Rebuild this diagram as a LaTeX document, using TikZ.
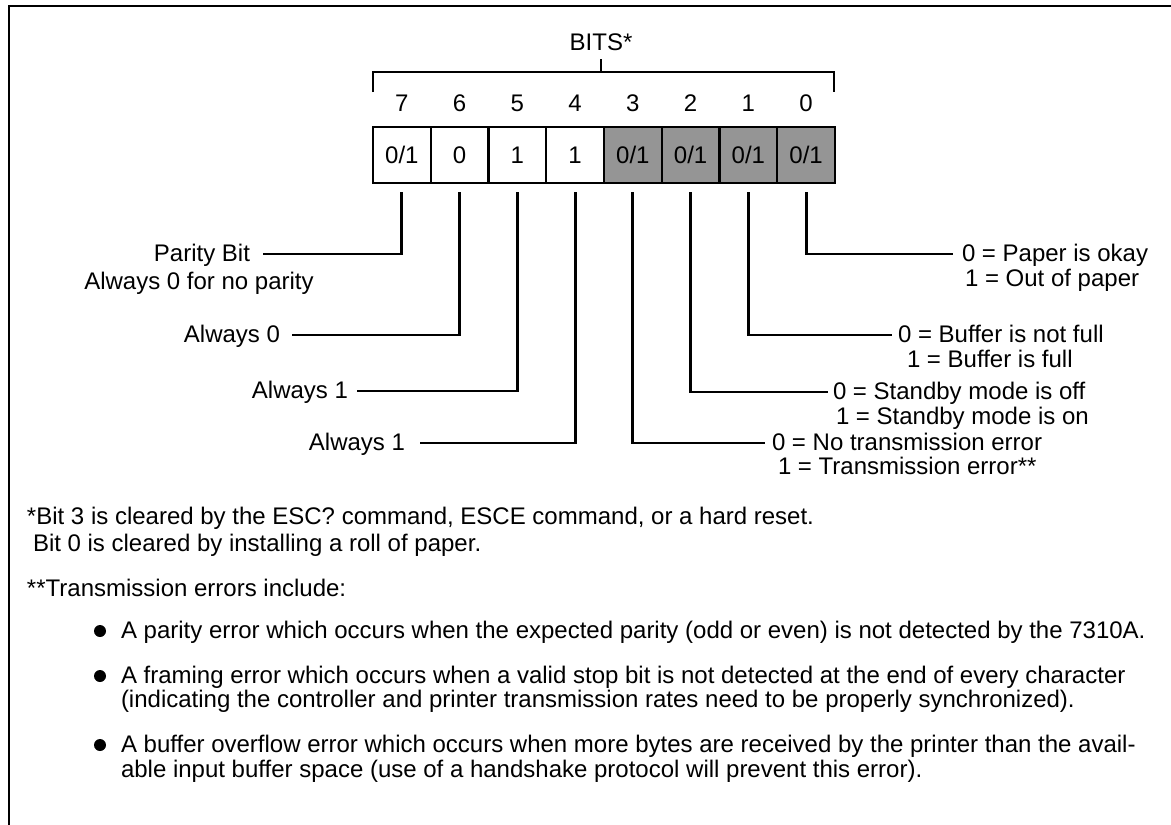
\documentclass[tikz,border=0pt]{standalone}
\usepackage{fontspec}
\setmainfont{Liberation Sans}
\usetikzlibrary{calc}
\definecolor{shade}{HTML}{959595}
\begin{document}
\begin{tikzpicture}[x=1pt,y=-1pt,
  every node/.style={font=\fontsize{24}{29}\selectfont, inner sep=0pt, outer sep=0pt},
  lead/.style={line width=2.8pt},
  frameline/.style={line width=2.4pt},
  bitbox/.style={draw, line width=2.4pt, minimum width=57.75pt, minimum height=56pt, anchor=north west},
  grayb/.style={bitbox, fill=shade},
  lbl/.style={text height=14pt, text depth=0pt},
  txt/.style={anchor=base west},
  dot/.style={circle, fill=black, minimum size=12pt, inner sep=0pt}]
\useasboundingbox (0,0) rectangle (1171,825);
% frame
\draw[frameline] (9,825) -- (9,6) -- (1171,6);
% title and bracket
\node[anchor=base] (bits) at (601,50) {BITS*};
\coordinate (brL) at (373,92);
\coordinate (brR) at (834,92);
\coordinate (brM) at (601,72);
\draw[lead] (brL) -- (brL |- brM) -- (brR |- brM) -- (brR);
\draw[lead, shorten <=9pt] (bits.south) -- (brM);
% boxes
\node[bitbox] (b7) at (373,127) {0/1};
\node[bitbox] (b6) at (430.75,127) {0};
\node[bitbox] (b5) at (488.5,127) {1};
\node[bitbox] (b4) at (546.25,127) {1};
\node[grayb] (b3) at (604,127) {0/1};
\node[grayb] (b2) at (661.75,127) {0/1};
\node[grayb] (b1) at (719.5,127) {0/1};
\node[grayb] (b0) at (777.25,127) {0/1};
% bit numbers
\foreach \b in {7,6,5,4,3,2,1,0}{
  \node[anchor=base] (n\b) at (b\b.center |- 0,111) {\b};
}
% left labels
\node[lbl, anchor=east] (l7) at (250,254) {Parity Bit};
\node[anchor=base] (l7b) at ($(l7.base)+(-3,28)$) {Always 0 for no parity};
\node[lbl, anchor=east] (l6) at (280,335) {Always 0};
\node[lbl, anchor=east] (l5) at (348,391) {Always 1};
\node[lbl, anchor=east] (l4) at (405,443) {Always 1};
% right labels
\node[lbl, anchor=west] (r0) at (962,254) {0 = Paper is okay};
\node[txt] (r0b) at ($(r0.base west)+(3,25)$) {1 = Out of paper};
\node[lbl, anchor=west] (r1) at (898,335) {0 = Buffer is not full};
\node[txt] (r1b) at ($(r1.base west)+(9,25)$) {1 = Buffer is full};
\node[lbl, anchor=west] (r2) at (833,392) {0 = Standby mode is off};
\node[txt] (r2b) at ($(r2.base west)+(3,25)$) {1 = Standby mode is on};
\node[lbl, anchor=west] (r3) at (772,443) {0 = No transmission error};
\node[txt] (r3b) at ($(r3.base west)+(6,24)$) {1 = Transmission error**};
% leaders
\draw[lead, shorten <=9pt, shorten >=13pt] (b7.south) |- (l7.east);
\draw[lead, shorten <=9pt, shorten >=12pt] (b6.south) |- (l6.east);
\draw[lead, shorten <=9pt, shorten >=9pt] (b5.south) |- (l5.east);
\draw[lead, shorten <=9pt, shorten >=15pt] (b4.south) |- (l4.east);
\draw[lead, shorten <=9pt, shorten >=7pt] (b3.south) |- (r3.west);
\draw[lead, shorten <=9pt, shorten >=5pt] (b2.south) |- (r2.west);
\draw[lead, shorten <=9pt, shorten >=6pt] (b1.south) |- (r1.west);
\draw[lead, shorten <=9pt, shorten >=9pt] (b0.south) |- (r0.west);
% footnotes
\node[txt] (f1) at (27,524) {*Bit 3 is cleared by the ESC? command, ESCE command, or a hard reset.};
\node[txt] (f2) at (33,551) {Bit 0 is cleared by installing a roll of paper.};
\node[txt] (f3) at (27,596) {**Transmission errors include:};
\node[dot] (d1) at (100,631) {};
\node[txt] (t1) at (121,638) {A parity error which occurs when the expected parity (odd or even) is not detected by the 7310A.};
\node[dot] (d2) at (100,676) {};
\node[txt] (t2) at (121,683) {A framing error which occurs when a valid stop bit is not detected at the end of every character};
\node[txt] (t2b) at (121,707) {(indicating the controller and printer transmission rates need to be properly synchronized).};
\node[dot] (d3) at (100,745) {};
\node[txt] (t3) at (121,752) {A buffer overflow error which occurs when more bytes are received by the printer than the avail-};
\node[txt] (t3b) at (121,777) {able input buffer space (use of a handshake protocol will prevent this error).};
\end{tikzpicture}
\end{document}
